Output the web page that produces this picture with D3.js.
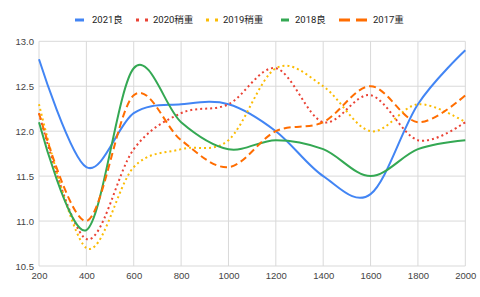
<!DOCTYPE html>
<html>
<head>
<meta charset="utf-8">
<script src="https://cdn.jsdelivr.net/npm/d3@7"></script>
<style>
  body { margin: 0; background: #fff; }
  svg { display: block; font-family: Roboto, Arial, "Noto Sans CJK SC", sans-serif; }
  .grid line { stroke: #d9d9d9; stroke-width: 1; }
  .tick text { fill: #444; font-size: 9.5px; }
  .legend text { fill: #222; font-size: 9.5px; }
</style>
</head>
<body>
<svg width="480" height="297"></svg>
<script>
// x categories (distance)
var xValues = [200, 400, 600, 800, 1000, 1200, 1400, 1600, 1800, 2000];
var xTicks = [200, 400, 600, 800, 1000, 1200, 1400, 1600, 1800, 2000];
var yTicks = [10.5, 11.0, 11.5, 12.0, 12.5, 13.0];

// series values
var names = ["2021良", "2020稍重", "2019稍重", "2018良", "2017重"];
var s2021 = [12.8, 11.6, 12.2, 12.3, 12.3, 12.0, 11.5, 11.3, 12.3, 12.9];
var s2020 = [12.2, 10.8, 11.8, 12.2, 12.3, 12.7, 12.1, 12.4, 11.9, 12.1];
var s2019 = [12.3, 10.7, 11.6, 11.8, 11.9, 12.7, 12.5, 12.0, 12.3, 12.1];
var s2018 = [12.1, 10.9, 12.7, 12.1, 11.8, 11.9, 11.8, 11.5, 11.8, 11.9];
var s2017 = [12.2, 11.0, 12.4, 11.9, 11.6, 12.0, 12.1, 12.5, 12.1, 12.4];

var series = [s2021, s2020, s2019, s2018, s2017];
var colors = ["#4285f4", "#ea4335", "#fbbc04", "#34a853", "#ff6d01"];
var dashes = [null, "2,3", "2,3", null, "7,4"];
var legendDash = [null, "3,6", "3,6", null, "11,6"];
var legendX = [75, 136, 206, 281, 339];
var legendW = [9, 12, 12, 8, 28];
var legendTextX = [92, 153, 223, 295, 373];

var svg = d3.select("svg");
var margin = { top: 41.3, right: 14.7, bottom: 31, left: 39 };
var width = 480 - margin.left - margin.right,
    height = 297 - margin.top - margin.bottom;

var x = d3.scaleLinear().domain([200, 2000]).range([0, width]);
var y = d3.scaleLinear().domain([10.5, 13.0]).range([height, 0]);

var g = svg.append("g")
    .attr("transform", "translate(" + margin.left + "," + margin.top + ")");

// gridlines
var grid = g.append("g").attr("class", "grid");
grid.selectAll(".v").data(xTicks).enter().append("line")
    .attr("x1", function (d) { return x(d); })
    .attr("x2", function (d) { return x(d); })
    .attr("y1", 0).attr("y2", height);
grid.selectAll(".h").data(yTicks).enter().append("line")
    .attr("x1", 0).attr("x2", width)
    .attr("y1", function (d) { return y(d); })
    .attr("y2", function (d) { return y(d); });

// axes (labels only, grid draws the lines)
var xAxis = d3.axisBottom(x).tickValues(xTicks).tickSize(0).tickPadding(6)
    .tickFormat(d3.format("d"));
var yAxis = d3.axisLeft(y).tickValues(yTicks).tickSize(0).tickPadding(5)
    .tickFormat(d3.format(".1f"));

g.append("g").attr("transform", "translate(0," + height + ")").call(xAxis)
    .call(function (a) { a.select(".domain").remove(); });
g.append("g").call(yAxis)
    .call(function (a) { a.select(".domain").remove(); });

// lines
var line = d3.line()
    .x(function (d, i) { return x(xValues[i]); })
    .y(function (d) { return y(d); })
    .curve(d3.curveCardinal.tension(0));

series.forEach(function (s, i) {
    g.append("path")
        .datum(s)
        .attr("fill", "none")
        .attr("stroke", colors[i])
        .attr("stroke-width", 2)
        .attr("stroke-dasharray", dashes[i])
        .attr("d", line);
});

// legend
var legend = svg.append("g").attr("class", "legend");
names.forEach(function (n, i) {
    legend.append("line")
        .attr("x1", legendX[i]).attr("x2", legendX[i] + legendW[i])
        .attr("y1", 20).attr("y2", 20)
        .attr("stroke", colors[i])
        .attr("stroke-width", 3)
        .attr("stroke-dasharray", legendDash[i]);
    legend.append("text")
        .attr("x", legendTextX[i]).attr("y", 20)
        .attr("dy", "0.35em")
        .text(n);
});
</script>
</body>
</html>
